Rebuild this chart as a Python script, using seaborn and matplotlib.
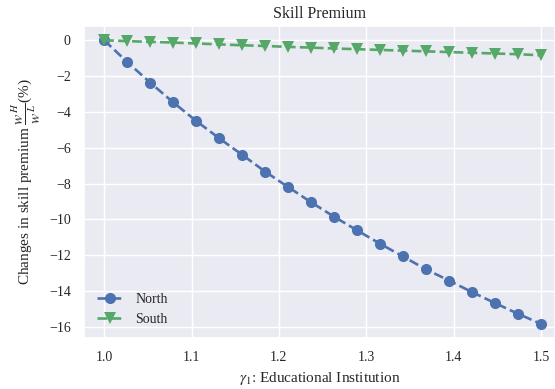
import numpy as np
import pandas as pd
import matplotlib
matplotlib.use("Agg")
import matplotlib.pyplot as plt
import seaborn as sns

# Educational institution parameter gamma_1
gamma1 = [1.0, 1.0263, 1.0526, 1.0789, 1.1053, 1.1316, 1.1579, 1.1842, 1.2105, 1.2368,
          1.2632, 1.2895, 1.3158, 1.3421, 1.3684, 1.3947, 1.4211, 1.4474, 1.4737, 1.5]

# Change in the skill premium w^H / w^L (%)
north = [0.0, -1.21, -2.36, -3.46, -4.50, -5.47, -6.39, -7.33, -8.19, -9.04,
         -9.85, -10.61, -11.36, -12.07, -12.79, -13.41, -14.06, -14.67, -15.27, -15.83]
south = [0.0, -0.05, -0.09, -0.13, -0.18, -0.23, -0.28, -0.32, -0.37, -0.41,
         -0.46, -0.50, -0.54, -0.58, -0.62, -0.66, -0.70, -0.74, -0.78, -0.84]

regions = ["North", "South"]

sns.set_theme(style="darkgrid")
plt.rcParams["font.family"] = ["Liberation Serif", "DejaVu Serif"]
plt.rcParams["mathtext.fontset"] = "stix"

palette = sns.color_palette("deep")

fig = plt.figure(figsize=(5.55, 3.89), dpi=100)
ax = fig.add_axes([0.1514, 0.131, 0.8486, 0.802])

sns.lineplot(x=gamma1, y=north, ax=ax, color=palette[0], marker="o",
             markersize=8, linestyle="--", linewidth=1.9, markeredgewidth=0,
             label=regions[0])
sns.lineplot(x=gamma1, y=south, ax=ax, color=palette[2], marker="v",
             markersize=8, linestyle="--", linewidth=1.9, markeredgewidth=0,
             label=regions[1])

ax.set_xlim(0.977, 1.516)
ax.set_xticks([1.0, 1.1, 1.2, 1.3, 1.4, 1.5])
ax.set_yticks([0, -2, -4, -6, -8, -10, -12, -14, -16])
ax.tick_params(labelsize=10)

ax.set_title("Skill Premium", fontsize=11.5)
ax.set_xlabel(r"$\gamma_1$: Educational Institution", fontsize=11)
ax.set_ylabel(r"Changes in skill premium $\dfrac{w^H}{w^L}$(%)", fontsize=11)

ax.legend(loc="lower left", frameon=False, fontsize=10)

fig.savefig("out.png", dpi=100)
